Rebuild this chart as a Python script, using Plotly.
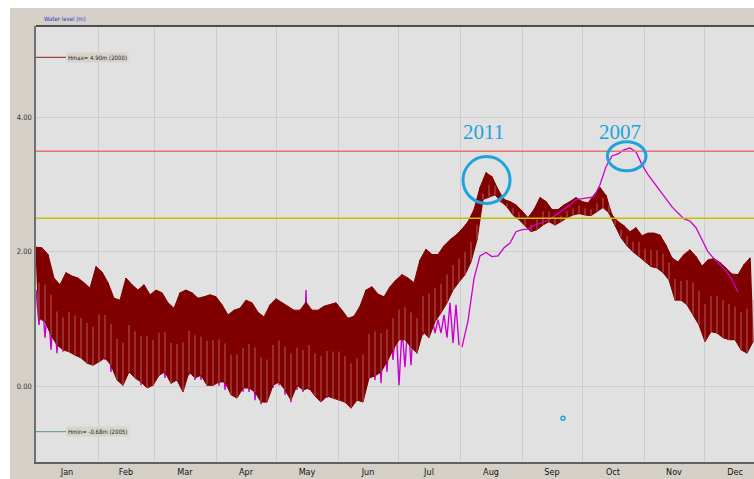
import plotly.graph_objects as go

# ---- axis labels -------------------------------------------------------
months = ["Jan", "Feb", "Mar", "Apr", "May", "Jun",
          "Jul", "Aug", "Sep", "Oct", "Nov", "Dec"]
month_len = [31, 28, 31, 30, 31, 30, 31, 31, 30, 31, 30, 31]
y_ticks = [0.0, 2.0, 4.0]

# ---- water level readings (m), one high/low pair every 3 days ----------
sample_days = list(range(0, 360, 3))

hi_2011 = [2.07, 2.06, 1.96, 1.61, 1.51, 1.69, 1.64, 1.61, 1.54, 1.46,
           1.78, 1.70, 1.54, 1.31, 1.28, 1.61, 1.51, 1.43, 1.51, 1.36,
           1.43, 1.39, 1.24, 1.16, 1.39, 1.43, 1.39, 1.31, 1.33, 1.36,
           1.33, 1.21, 1.06, 1.13, 1.16, 1.28, 1.24, 1.10, 1.03, 1.21,
           1.30, 1.24, 1.18, 1.13, 1.13, 1.25, 1.13, 1.13, 1.19, 1.21,
           1.24, 1.13, 1.01, 1.04, 1.19, 1.43, 1.48, 1.37, 1.33, 1.48,
           1.58, 1.66, 1.61, 1.54, 1.88, 2.04, 1.96, 1.96, 2.09, 2.18,
           2.25, 2.34, 2.45, 2.63, 2.96, 3.18, 3.12, 2.93, 2.78, 2.75,
           2.70, 2.61, 2.51, 2.63, 2.81, 2.75, 2.63, 2.63, 2.70, 2.75,
           2.81, 2.75, 2.73, 2.85, 2.96, 2.84, 2.55, 2.45, 2.39, 2.30,
           2.36, 2.24, 2.28, 2.28, 2.25, 2.10, 1.91, 1.85, 1.96, 2.03,
           1.93, 1.79, 1.88, 1.90, 1.84, 1.76, 1.67, 1.66, 1.81, 1.91]

lo_2011 = [1.01, 0.96, 0.76, 0.61, 0.54, 0.51, 0.46, 0.42, 0.34, 0.31,
           0.36, 0.42, 0.31, 0.09, 0.01, 0.21, 0.12, 0.06, -0.03, 0.01,
           0.16, 0.21, 0.04, 0.09, -0.09, 0.21, 0.12, 0.16, 0.01, 0.01,
           0.06, 0.06, -0.13, -0.18, -0.03, -0.03, -0.09, -0.24, -0.24, 0.01,
           0.06, -0.06, -0.21, 0.01, -0.06, -0.03, -0.15, -0.24, -0.15, -0.18,
           -0.21, -0.24, -0.33, -0.21, -0.24, 0.12, 0.15, 0.21, 0.36, 0.54,
           0.69, 0.69, 0.58, 0.49, 0.81, 0.72, 0.96, 1.09, 1.24, 1.43,
           1.55, 1.66, 1.85, 2.18, 2.78, 2.82, 2.85, 2.75, 2.67, 2.55,
           2.48, 2.39, 2.30, 2.33, 2.40, 2.45, 2.40, 2.45, 2.51, 2.55,
           2.57, 2.55, 2.54, 2.60, 2.66, 2.58, 2.40, 2.21, 2.09, 2.00,
           1.93, 1.85, 1.78, 1.76, 1.69, 1.58, 1.28, 1.28, 1.21, 1.06,
           0.91, 0.66, 0.81, 0.79, 0.72, 0.69, 0.69, 0.54, 0.49, 0.66]

# 2007: tidal range up to early August ...
hi_2007 = [1.43, 1.36, 1.28, 1.21, 1.28, 1.28, 1.21, 1.13, 1.06, 1.06,
           1.21, 1.13, 0.99, 0.84, 0.91, 0.99, 0.91, 0.84, 0.84, 0.76,
           0.84, 0.76, 0.69, 0.69, 0.76, 0.84, 0.76, 0.76, 0.76, 0.76,
           0.69, 0.61, 0.54, 0.61, 0.69, 0.69, 0.61, 0.54, 0.61, 0.69,
           0.76, 0.69, 0.61, 0.69, 0.84, 1.43, 0.76, 0.69, 0.69, 0.76,
           0.76, 0.69, 0.61, 0.61, 0.69, 0.99, 1.01, 0.99, 1.01, 0.99,
           0.91, 0.84, 1.01, 1.01, 1.03, 1.03, 1.01, 0.99, 1.06, 1.24,
           1.21]
lo_2007 = [0.91, 0.72, 0.54, 0.49, 0.51, 0.54, 0.51, 0.42, 0.45, 0.42,
           0.46, 0.39, 0.21, 0.16, 0.21, 0.27, 0.16, 0.01, 0.01, 0.12,
           0.16, 0.12, 0.04, 0.09, 0.01, 0.16, 0.09, 0.09, 0.01, 0.01,
           0.01, -0.06, -0.13, -0.13, -0.09, -0.09, -0.21, -0.27, -0.21, -0.03,
           0.01, -0.13, -0.24, -0.06, -0.09, -0.06, -0.13, -0.21, -0.18, -0.18,
           -0.21, -0.24, -0.28, -0.21, -0.18, 0.12, 0.09, 0.04, 0.21, 0.39,
           0.01, 0.28, 0.31, 0.61, 0.76, 0.81, 0.79, 0.79, 0.72, 0.64,
           0.61]
# ... then a single mean level from August on
flood_days_2007 = list(range(213, 352, 3))
flood_2007 = [0.58, 0.97, 1.60, 1.94, 1.99, 1.93, 1.94, 2.06, 2.13, 2.30,
              2.33, 2.34, 2.39, 2.42, 2.46, 2.51, 2.57, 2.63, 2.70, 2.78,
              2.79, 2.81, 2.82, 3.00, 3.27, 3.43, 3.46, 3.52, 3.55, 3.49,
              3.30, 3.15, 3.03, 2.90, 2.79, 2.67, 2.58, 2.49, 2.46, 2.36,
              2.18, 2.00, 1.90, 1.81, 1.72, 1.58, 1.40]

# reference levels
h_max, h_min = 4.90, -0.68
warn_level, alarm_level = 2.50, 3.50
gauge_day, gauge_level = 263.5, -0.48

# ---- geometry ------------------------------------------------------------
W, H = 754, 479
ML, MR, MT, MB = 36, 0, 26, 17
PW, PH = W - ML - MR, H - MT - MB
X_RANGE = [0, 359]
Y_RANGE = [-1.133, 5.367]


def px_x(px):
    return (px - ML) / PW


def px_y(py):
    return (H - MB - py) / PH


def zigzag(days, hi, lo):
    xs, ys = [], []
    for d, h, l in zip(days, hi, lo):
        xs += [d, d + 1.5]
        ys += [h, l]
    return xs, ys


def low_tide_strokes(days, hi, lo):
    """Vertical strokes from each low water up to mid-range."""
    xs, ys = [], []
    for d, h, l in zip(days, hi, lo):
        xs += [d + 1.5, d + 1.5, None]
        ys += [l, (h + l) / 2, None]
    return xs, ys


month_start = [sum(month_len[:i]) for i in range(12)]
month_mid = [s + n / 2 for s, n in zip(month_start, month_len)]

DARK = "#800000"
MAGENTA = "#cc00cc"
CYAN = "#1ea3df"

fig = go.Figure()

# 2007 tidal part (beneath 2011)
n07 = len(hi_2007)
zx, zy = zigzag(sample_days[:n07], hi_2007, lo_2007)
fig.add_trace(go.Scatter(x=zx, y=zy, mode="lines",
                         line=dict(color=MAGENTA, width=1.4),
                         hoverinfo="skip", showlegend=False))

# 2011 tidal band
zx, zy = zigzag(sample_days, hi_2011, lo_2011)
fig.add_trace(go.Scatter(x=sample_days, y=hi_2011, mode="lines",
                         line=dict(width=1, color=DARK),
                         hoverinfo="skip", showlegend=False))
fig.add_trace(go.Scatter(x=[d + 1.5 for d in sample_days], y=lo_2011,
                         mode="lines", line=dict(width=1, color=DARK),
                         fill="tonexty", fillcolor=DARK,
                         hoverinfo="skip", showlegend=False))
fig.add_trace(go.Scatter(x=zx, y=zy, mode="lines",
                         line=dict(color=DARK, width=1.5),
                         name="2011", showlegend=False))
sx, sy = low_tide_strokes(sample_days, hi_2011, lo_2011)
fig.add_trace(go.Scatter(x=sx, y=sy, mode="lines",
                         line=dict(color="rgba(200,130,130,0.6)", width=1.2),
                         hoverinfo="skip", showlegend=False))

# 2007 flood wave (above 2011)
fig.add_trace(go.Scatter(x=flood_days_2007, y=flood_2007, mode="lines",
                         line=dict(color=MAGENTA, width=1.3),
                         name="2007", showlegend=False))

# isolated gauge reading
fig.add_trace(go.Scatter(x=[gauge_day], y=[gauge_level], mode="markers",
                         marker=dict(symbol="circle-open", size=4,
                                     color=CYAN, line=dict(width=1.5, color=CYAN)),
                         hoverinfo="skip", showlegend=False))

shapes = [
    # window frame and plot background
    dict(type="rect", xref="paper", yref="paper", layer="below",
         x0=px_x(10), x1=px_x(W + 2), y0=px_y(8), y1=px_y(H + 2),
         fillcolor="#d4d0c8", line=dict(width=0)),
    dict(type="rect", xref="paper", yref="paper", layer="below",
         x0=0, x1=1, y0=0, y1=1, fillcolor="#e1e1e1", line=dict(width=0)),
    # top border
    dict(type="line", xref="paper", yref="paper", x0=0, x1=1, y0=1, y1=1,
         line=dict(color="#202020", width=1.5)),
    # alarm / warning levels
    dict(type="line", xref="paper", yref="y", x0=0, x1=1,
         y0=alarm_level, y1=alarm_level, line=dict(color="#e87272", width=1.5)),
    dict(type="line", xref="paper", yref="y", x0=0, x1=1,
         y0=warn_level, y1=warn_level, line=dict(color="#c8c000", width=1.5)),
    # record high / low markers
    dict(type="line", xref="paper", yref="y", x0=0, x1=px_x(66),
         y0=h_max, y1=h_max, line=dict(color="#8b1c1c", width=1)),
    dict(type="line", xref="paper", yref="y", x0=0, x1=px_x(66),
         y0=h_min, y1=h_min, line=dict(color="#6f9c9c", width=1.2)),
    # highlighted peaks
    dict(type="circle", xref="x", yref="y", x0=213.5, x1=237.0,
         y0=2.72, y1=3.42, line=dict(color=CYAN, width=3)),
    dict(type="circle", xref="x", yref="y", x0=285.7, x1=305.0,
         y0=3.21, y1=3.64, line=dict(color=CYAN, width=3)),
]

small_font = "Liberation Sans Narrow, DejaVu Sans Condensed, Liberation Sans"
annotations = [
    dict(text="Water level (m)", xref="paper", yref="paper",
         x=px_x(42), y=px_y(18), xanchor="left", yanchor="middle",
         showarrow=False, font=dict(family=small_font, size=6, color="#3030c8")),
    dict(text="Hmax= 4.90m (2000)", xref="paper", yref="y",
         x=px_x(66), y=h_max, xanchor="left", yanchor="middle",
         showarrow=False, bgcolor="#d8d4cc", borderpad=1,
         font=dict(family=small_font, size=6, color="#202020")),
    dict(text="Hmin= -0.68m (2005)", xref="paper", yref="y",
         x=px_x(66), y=h_min, xanchor="left", yanchor="middle",
         showarrow=False, bgcolor="#d8d4cc", borderpad=1,
         font=dict(family=small_font, size=6, color="#202020")),
    dict(text="2011", xref="x", yref="y", x=223.5, y=3.79,
         showarrow=False, font=dict(family="Liberation Serif", size=21, color=CYAN)),
    dict(text="2007", xref="x", yref="y", x=292.0, y=3.79,
         showarrow=False, font=dict(family="Liberation Serif", size=21, color=CYAN)),
]

fig.update_layout(
    width=W, height=H,
    margin=dict(l=ML, r=MR, t=MT, b=MB, pad=0),
    paper_bgcolor="white",
    plot_bgcolor="rgba(0,0,0,0)",
    shapes=shapes,
    annotations=annotations,
    xaxis=dict(range=X_RANGE, tickmode="array", tickvals=month_mid,
               ticktext=months, showgrid=False, zeroline=False,
               ticks="", showline=True, linecolor="#606060", linewidth=1.5,
               tickfont=dict(family=small_font, size=9, color="#111111"),
               minor=dict(tickmode="array", tickvals=month_start,
                          showgrid=True, gridcolor="#cdcdcd", gridwidth=1.2)),
    yaxis=dict(range=Y_RANGE, tickmode="array", tickvals=y_ticks,
               ticktext=[f"{v:.2f}" for v in y_ticks],
               showgrid=True, gridcolor="#cdcdcd", gridwidth=1.2,
               zeroline=False, ticks="", showline=True,
               linecolor="#707070", linewidth=1.5, ticklabelstandoff=1,
               tickfont=dict(family=small_font, size=7.5, color="#333333")),
)

fig.write_html("out.html")
